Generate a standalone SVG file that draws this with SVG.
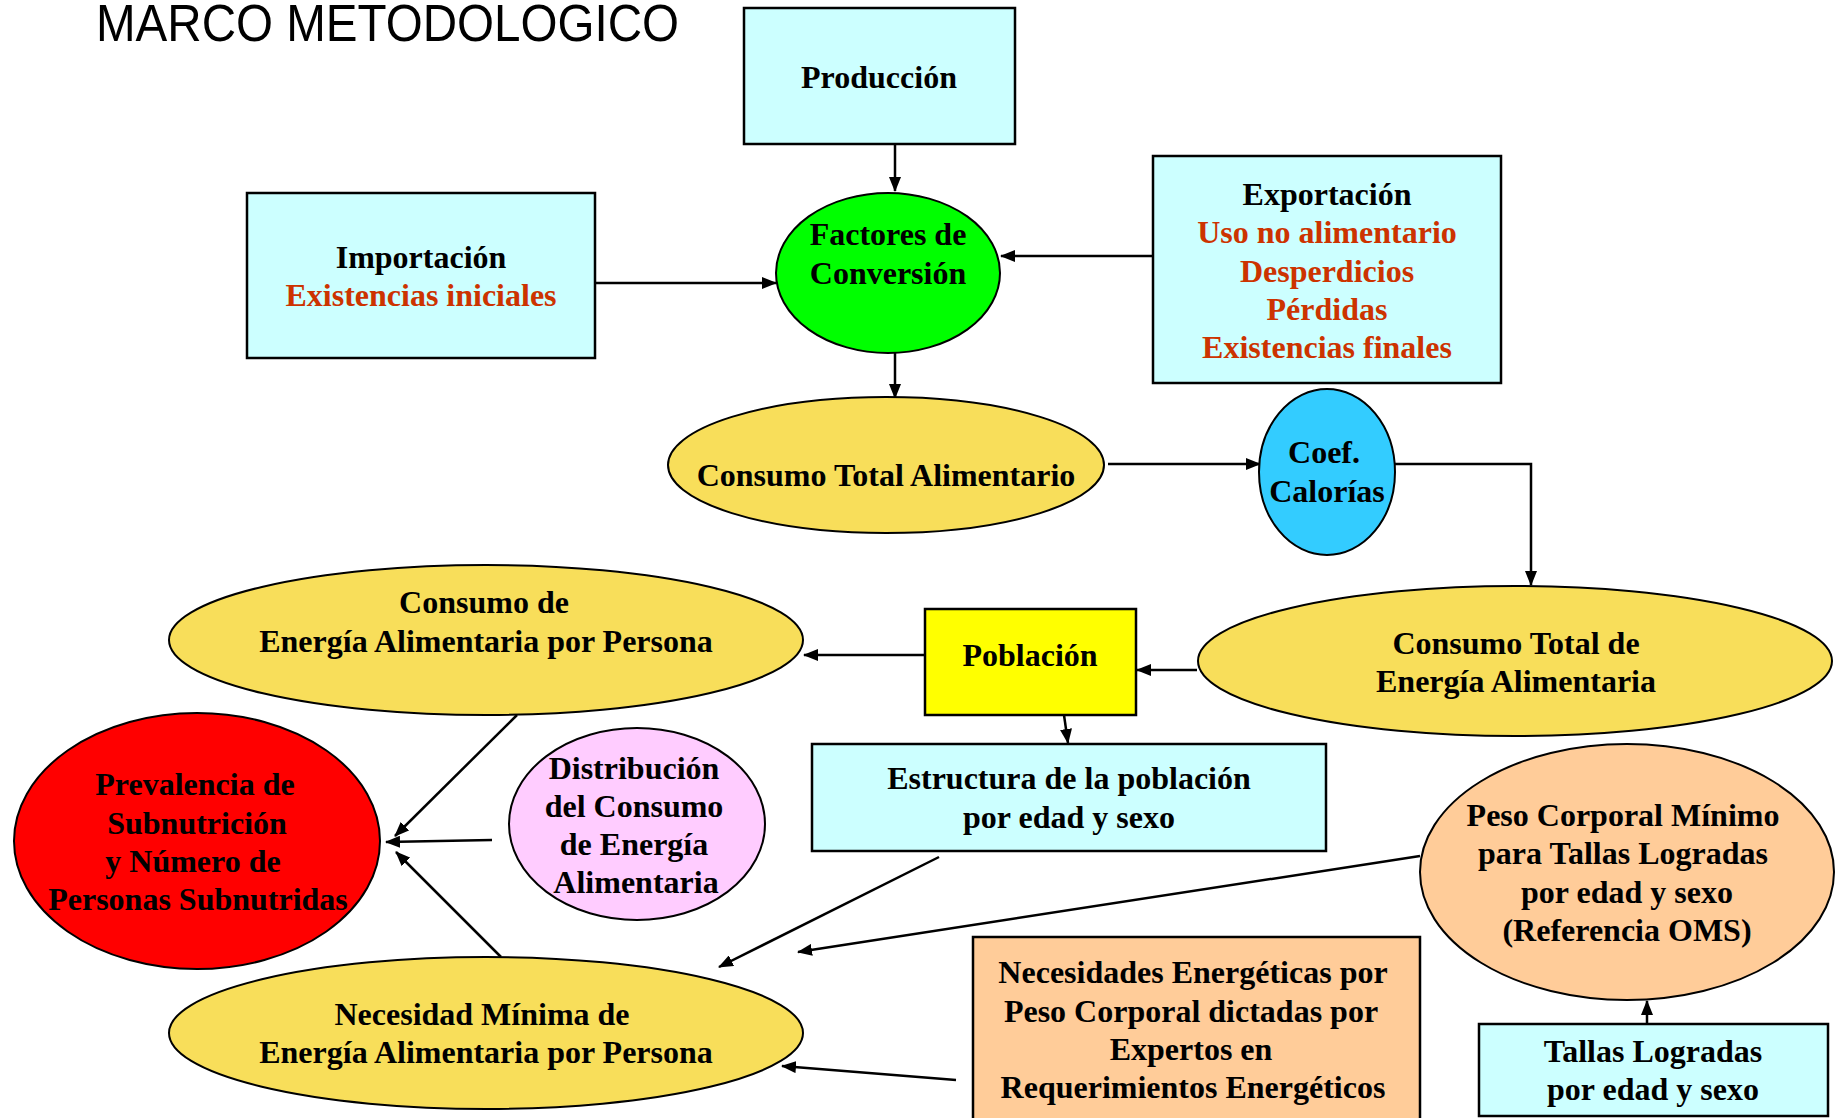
<svg xmlns="http://www.w3.org/2000/svg" width="1841" height="1118" viewBox="0 0 1841 1118">
<style>
.t{font-family:"Liberation Serif","Times New Roman",serif;font-weight:bold;font-size:32px;text-anchor:middle;fill:#000}
.r{fill:#CC3300}
.box{stroke:#000;stroke-width:2.5}
.ell{stroke:#000;stroke-width:2}
.cy{fill:#CCFFFF}
.yl{fill:#F8DE5A}
.c{fill:none;stroke:#000;stroke-width:2.5}
</style>
<defs>
<marker id="ah" markerUnits="userSpaceOnUse" markerWidth="15" markerHeight="12" refX="14" refY="6" orient="auto">
<path d="M0,0 L15,6 L0,12 z" fill="#000"/>
</marker>
</defs>
<rect width="1841" height="1118" fill="#fff"/>
<text x="96" y="41" textLength="583" lengthAdjust="spacingAndGlyphs" style="font-family:'Liberation Sans',Arial,sans-serif;font-size:51px;fill:#000">MARCO METODOLOGICO</text>

<g id="connectors">
<line class="c" x1="895" y1="144" x2="895" y2="191" marker-end="url(#ah)"/>
<line class="c" x1="595" y1="283" x2="776" y2="283" marker-end="url(#ah)"/>
<line class="c" x1="1153" y1="256" x2="1001" y2="256" marker-end="url(#ah)"/>
<line class="c" x1="895" y1="347" x2="895" y2="398" marker-end="url(#ah)"/>
<line class="c" x1="1108" y1="464" x2="1260" y2="464" marker-end="url(#ah)"/>
<polyline class="c" points="1395,464 1531,464 1531,585" marker-end="url(#ah)"/>
<line class="c" x1="1197" y1="670" x2="1137" y2="670" marker-end="url(#ah)"/>
<line class="c" x1="924" y1="655" x2="804" y2="655" marker-end="url(#ah)"/>
<line class="c" x1="1064" y1="715" x2="1068" y2="743" marker-end="url(#ah)"/>
<line class="c" x1="517" y1="715" x2="395" y2="836" marker-end="url(#ah)"/>
<line class="c" x1="492" y1="840" x2="386" y2="842" marker-end="url(#ah)"/>
<line class="c" x1="501" y1="957" x2="396" y2="852" marker-end="url(#ah)"/>
<line class="c" x1="939" y1="857" x2="719" y2="967" marker-end="url(#ah)"/>
<line class="c" x1="1420" y1="856" x2="798" y2="952" marker-end="url(#ah)"/>
<line class="c" x1="956" y1="1080" x2="782" y2="1066" marker-end="url(#ah)"/>
<line class="c" x1="1647" y1="1024" x2="1647" y2="1001" marker-end="url(#ah)"/>
</g>

<g id="produccion">
<rect class="box cy" x="744" y="8" width="271" height="136"/>
<text class="t" x="879" y="88">Producción</text>
</g>
<g id="importacion">
<rect class="box cy" x="247" y="193" width="348" height="165"/>
<text class="t" x="421" y="268">Importación</text>
<text class="t r" x="421" y="306">Existencias iniciales</text>
</g>
<g id="factores">
<ellipse class="ell" cx="888" cy="273" rx="112" ry="80" fill="#00FF00"/>
<text class="t" x="888" y="245">Factores de</text>
<text class="t" x="888" y="284">Conversión</text>
</g>
<g id="exportacion">
<rect class="box cy" x="1153" y="156" width="348" height="227"/>
<text class="t" x="1327" y="205">Exportación</text>
<text class="t r" x="1327" y="243">Uso no alimentario</text>
<text class="t r" x="1327" y="282">Desperdicios</text>
<text class="t r" x="1327" y="320">Pérdidas</text>
<text class="t r" x="1327" y="358">Existencias finales</text>
</g>
<g id="consumo-total-alimentario">
<ellipse class="ell yl" cx="886" cy="465" rx="218" ry="68"/>
<text class="t" x="886" y="486">Consumo Total Alimentario</text>
</g>
<g id="coef-calorias">
<ellipse class="ell" cx="1327" cy="472" rx="68" ry="83" fill="#33CCFF"/>
<text class="t" x="1324" y="463">Coef.</text>
<text class="t" x="1327" y="502">Calorías</text>
</g>
<g id="consumo-total-energia">
<ellipse class="ell yl" cx="1515" cy="661" rx="317" ry="75"/>
<text class="t" x="1516" y="654">Consumo Total de</text>
<text class="t" x="1516" y="692">Energía Alimentaria</text>
</g>
<g id="poblacion">
<rect class="box" x="925" y="609" width="211" height="106" fill="#FFFF00"/>
<text class="t" x="1030" y="666">Población</text>
</g>
<g id="estructura">
<rect class="box cy" x="812" y="744" width="514" height="107"/>
<text class="t" x="1069" y="789">Estructura de la población</text>
<text class="t" x="1069" y="828">por edad y sexo</text>
</g>
<g id="consumo-energia-persona">
<ellipse class="ell yl" cx="486" cy="640" rx="317" ry="75"/>
<text class="t" x="484" y="613">Consumo de</text>
<text class="t" x="486" y="652">Energía Alimentaria por Persona</text>
</g>
<g id="prevalencia">
<ellipse class="ell" cx="197" cy="841" rx="183" ry="128" fill="#FF0000"/>
<text class="t" x="195" y="795">Prevalencia de</text>
<text class="t" x="197" y="834">Subnutrición</text>
<text class="t" x="193" y="872">y Número de</text>
<text class="t" x="198" y="910">Personas Subnutridas</text>
</g>
<g id="distribucion">
<ellipse class="ell" cx="637" cy="824" rx="128" ry="96" fill="#FFCCFF"/>
<text class="t" x="634" y="779">Distribución</text>
<text class="t" x="634" y="817">del Consumo</text>
<text class="t" x="634" y="855">de Energía</text>
<text class="t" x="636" y="893">Alimentaria</text>
</g>
<g id="necesidad-minima">
<ellipse class="ell yl" cx="486" cy="1033" rx="317" ry="76"/>
<text class="t" x="482" y="1025">Necesidad Mínima de</text>
<text class="t" x="486" y="1063">Energía Alimentaria por Persona</text>
</g>
<g id="peso-corporal">
<ellipse class="ell" cx="1627" cy="872" rx="207" ry="128" fill="#FFCC99"/>
<text class="t" x="1623" y="826">Peso Corporal Mínimo</text>
<text class="t" x="1623" y="864">para Tallas Logradas</text>
<text class="t" x="1627" y="903">por edad y sexo</text>
<text class="t" x="1627" y="941">(Referencia OMS)</text>
</g>
<g id="necesidades-energeticas">
<rect class="box" x="973" y="937" width="447" height="200" fill="#FFCC99"/>
<text class="t" x="1193" y="983">Necesidades Energéticas por</text>
<text class="t" x="1191" y="1022">Peso Corporal dictadas por</text>
<text class="t" x="1191" y="1060">Expertos en</text>
<text class="t" x="1193" y="1098">Requerimientos Energéticos</text>
</g>
<g id="tallas">
<rect class="box cy" x="1479" y="1024" width="349" height="92"/>
<text class="t" x="1653" y="1062">Tallas Logradas</text>
<text class="t" x="1653" y="1100">por edad y sexo</text>
</g>
</svg>
